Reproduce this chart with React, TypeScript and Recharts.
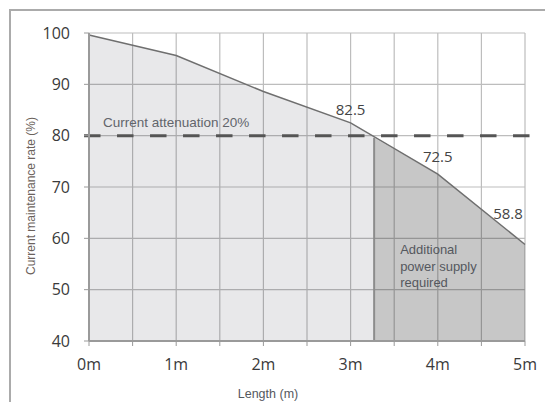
import { ComposedChart, Area, Line, XAxis, YAxis, CartesianGrid, ReferenceLine, LabelList } from 'recharts';

// Length along the strip (m) and measured current maintenance rate (%)
const lengths = [0, 1, 2, 3, 4, 5];
const rates = [99.6, 95.6, 88.6, 82.5, 72.5, 58.8];
const pointLabels = ['', '', '', '82.5', '72.5', '58.8'];

// where the curve drops under the 80% line and extra power is needed
const boundaryLength = 3.27;
const boundaryRate = 79.6;
const thresholdRate = 80;

const xTicks = [0, 0.5, 1, 1.5, 2, 2.5, 3, 3.5, 4, 4.5, 5];
const yTicks = [40, 50, 60, 70, 80, 90, 100];

const rows = lengths.map((x, i) => ({
  x,
  rate: rates[i],
  light: x <= boundaryLength ? rates[i] : null,
  dark: x >= boundaryLength ? rates[i] : null,
  label: pointLabels[i],
}));
rows.push({ x: boundaryLength, rate: null as any, light: boundaryRate, dark: boundaryRate, label: '' });
rows.sort((a, b) => a.x - b.x);

// label nudges (px) for the value labels, by text
const labelNudge: Record<string, [number, number]> = {
  '82.5': [0, -13],
  '72.5': [0, -17],
  '58.8': [-17, -30],
};

const tickFont = { fill: '#3a3a3a', fontSize: 16, fontFamily: '"Open Sans", sans-serif' };
const noteFont = '"Liberation Sans", Arial, sans-serif';

function PointLabel(props: any) {
  const { x, y, value } = props;
  if (!value) return null;
  const [dx, dy] = labelNudge[value] || [0, -12];
  return (
    <text x={x + dx} y={y + dy + 5} textAnchor="middle" fill="#444" fontSize={15} fontFamily={tickFont.fontFamily}>
      {value}
    </text>
  );
}

export default function App() {
  return (
    <div style={{ position: 'relative', width: 545, height: 402, overflow: 'hidden' }}>
      <style>{`body{margin:0;overflow:hidden}`}</style>
      <div
        style={{
          position: 'absolute',
          left: 9,
          top: 9,
          width: 545,
          height: 402,
          borderTop: '2px solid #ababab',
          borderLeft: '2px solid #ababab',
        }}
      />
      <div style={{ position: 'absolute', left: 0, top: 0 }}>
        <ComposedChart width={545} height={402} data={rows} margin={{ top: 33, right: 20, bottom: 0, left: 0 }}>
          <CartesianGrid stroke="#bdbdbd" strokeWidth={1.2} />
          <XAxis
            type="number"
            dataKey="x"
            domain={[0, 5]}
            ticks={xTicks}
            interval={0}
            height={61}
            tickSize={5}
            tickMargin={13}
            tick={tickFont}
            tickFormatter={(v: number) => (Number.isInteger(v) ? `${v}m` : '')}
            tickLine={{ stroke: '#999' }}
            axisLine={{ stroke: '#9a9a9a', strokeWidth: 2 }}
            label={{
              content: (p: any) => (
                <text
                  x={p.viewBox.x + p.viewBox.width / 2 - 39}
                  y={p.viewBox.y + 57}
                  textAnchor="middle"
                  fill="#55585e"
                  fontSize={12.5}
                  fontFamily={noteFont}
                >
                  Length (m)
                </text>
              ),
            }}
          />
          <YAxis
            type="number"
            domain={[40, 100]}
            ticks={yTicks}
            width={89}
            tickSize={5}
            tickMargin={14}
            tick={tickFont}
            tickLine={{ stroke: '#999' }}
            axisLine={{ stroke: '#9a9a9a', strokeWidth: 2 }}
            label={{
              content: (p: any) => {
                const cx = p.viewBox.x + 31;
                const cy = p.viewBox.y + p.viewBox.height / 2 + 9;
                return (
                  <text
                    x={cx}
                    y={cy}
                    transform={`rotate(-90 ${cx} ${cy})`}
                    textAnchor="middle"
                    dominantBaseline="central"
                    fill="#6b625c"
                    fontSize={12}
                    fontFamily={noteFont}
                  >
                    Current maintenance rate (%)
                  </text>
                );
              },
            }}
          />
          <Area
            type="linear"
            dataKey="light"
            fill="#202030"
            fillOpacity={0.1}
            stroke="none"
            isAnimationActive={false}
          />
          <Area
            type="linear"
            dataKey="dark"
            fill="#202020"
            fillOpacity={0.25}
            stroke="none"
            isAnimationActive={false}
          />
          <ReferenceLine
            segment={[
              { x: boundaryLength, y: 40 },
              { x: boundaryLength, y: boundaryRate },
            ]}
            stroke="#8c8c8c"
            strokeWidth={2}
            label={{
              content: (p: any) => {
                const x = p.viewBox.x + 26;
                const y = p.viewBox.y;
                return (
                  <text x={x} y={y} fill="#55585e" fontSize={13} fontFamily={noteFont}>
                    <tspan x={x} y={y + 116.5}>Additional</tspan>
                    <tspan x={x} y={y + 133}>power supply</tspan>
                    <tspan x={x} y={y + 149.5}>required</tspan>
                  </text>
                );
              },
            }}
          />
          <ReferenceLine
            segment={[
              { x: -0.057, y: thresholdRate },
              { x: 5.06, y: thresholdRate },
            ]}
            ifOverflow="visible"
            stroke="#555"
            strokeWidth={3}
            strokeDasharray="16.5 16.5"
            label={{
              content: (p: any) => (
                <text x={p.viewBox.x + 19} y={p.viewBox.y - 9} fill="#62656b" fontSize={13.5} fontFamily={noteFont}>
                  Current attenuation 20%
                </text>
              ),
            }}
          />
          <Line
            type="linear"
            dataKey="rate"
            stroke="#6f6f6f"
            strokeWidth={1.5}
            dot={false}
            connectNulls
            isAnimationActive={false}
          >
            <LabelList dataKey="label" content={PointLabel} />
          </Line>
        </ComposedChart>
      </div>
    </div>
  );
}
